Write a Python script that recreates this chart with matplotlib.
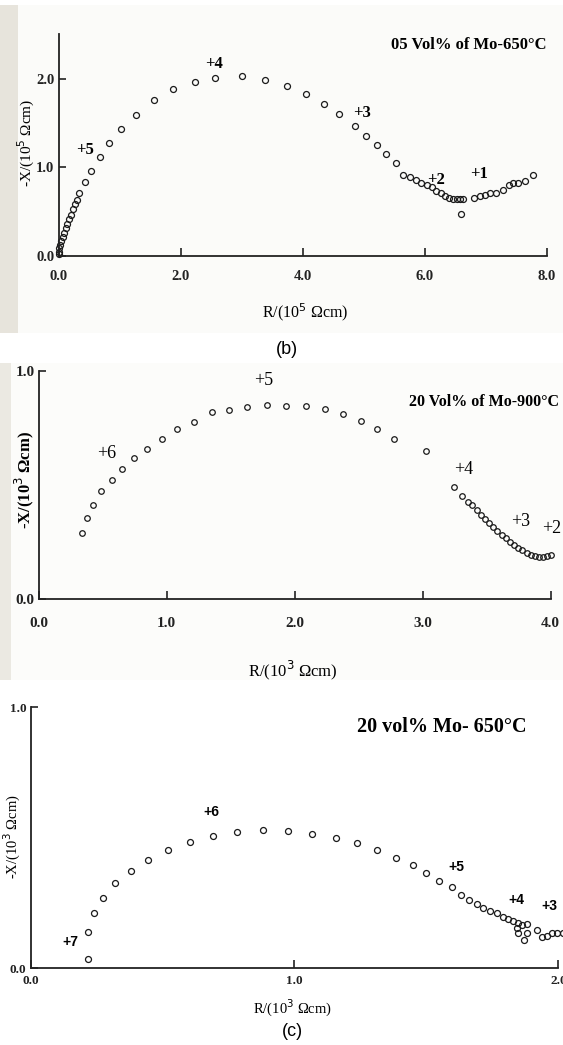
import matplotlib
matplotlib.use('Agg')
import matplotlib.pyplot as plt
from matplotlib.patches import Rectangle

W, H = 563, 1045

# (a) 05 vol% Mo - 650 C, units 10^5 ohm cm
r1 = [0.0, 0.0, 0.008, 0.025, 0.046, 0.068, 0.09, 0.118, 0.144, 0.177, 0.21,
      0.243, 0.27, 0.298, 0.341, 0.435, 0.535, 0.676, 0.835, 1.024, 1.265,
      1.571, 1.882, 2.229, 2.559, 3.0, 3.376, 3.735, 4.059, 4.347, 4.6, 4.853,
      5.041, 5.212, 5.365, 5.535, 5.648, 5.757, 5.856, 5.943, 6.031, 6.113,
      6.183, 6.26, 6.33, 6.4, 6.467, 6.52, 6.577, 6.63, 6.593, 6.806, 6.904,
      6.986, 7.068, 7.161, 7.286, 7.38, 7.45, 7.532, 7.641, 7.767]
x1 = [0.02, 0.048, 0.087, 0.127, 0.173, 0.218, 0.263, 0.312, 0.361, 0.414,
      0.462, 0.527, 0.583, 0.632, 0.707, 0.835, 0.959, 1.117, 1.271, 1.432,
      1.594, 1.759, 1.880, 1.962, 2.011, 2.026, 1.985, 1.917, 1.823, 1.718,
      1.602, 1.470, 1.353, 1.248, 1.147, 1.045, 0.913, 0.887, 0.857, 0.827,
      0.801, 0.775, 0.737, 0.707, 0.677, 0.651, 0.643, 0.643, 0.643, 0.643,
      0.470, 0.651, 0.677, 0.688, 0.707, 0.714, 0.744, 0.801, 0.82, 0.827,
      0.849, 0.917]
lab1 = ["+5", "+4", "+3", "+2", "+1"]
lab1_r = [0.44, 2.55, 4.97, 6.18, 6.89]
lab1_x = [1.19, 2.17, 1.61, 0.86, 0.93]

# (b) 20 vol% Mo - 900 C, units 10^3 ohm cm
r2 = [0.337, 0.379, 0.424, 0.488, 0.570, 0.651, 0.747, 0.848, 0.963, 1.081,
      1.215, 1.353, 1.488, 1.631, 1.782, 1.934, 2.086, 2.240, 2.378, 2.518,
      2.647, 2.773, 3.029, 3.246, 3.306, 3.357, 3.389, 3.423, 3.457, 3.488,
      3.522, 3.554, 3.585, 3.619, 3.653, 3.684, 3.716, 3.749, 3.78, 3.814,
      3.846, 3.879, 3.913, 3.944, 3.976, 4.007]
x2 = [0.292, 0.358, 0.415, 0.476, 0.521, 0.572, 0.618, 0.660, 0.702, 0.745,
      0.778, 0.820, 0.829, 0.844, 0.851, 0.848, 0.845, 0.832, 0.812, 0.781,
      0.745, 0.702, 0.651, 0.493, 0.452, 0.428, 0.413, 0.391, 0.369, 0.35,
      0.333, 0.315, 0.298, 0.282, 0.267, 0.252, 0.238, 0.226, 0.214, 0.203,
      0.195, 0.19, 0.187, 0.187, 0.19, 0.193]
lab2 = ["+6", "+5", "+4", "+3", "+2"]
lab2_r = [0.53, 1.76, 3.32, 3.77, 4.01]
lab2_x = [0.64, 0.96, 0.57, 0.34, 0.31]

# (c) 20 vol% Mo - 650 C, units 10^3 ohm cm
r3 = [0.216, 0.216, 0.241, 0.275, 0.320, 0.382, 0.446, 0.521, 0.605, 0.693,
      0.784, 0.882, 0.974, 1.067, 1.156, 1.238, 1.314, 1.385, 1.448, 1.499,
      1.547, 1.596, 1.63, 1.661, 1.69, 1.716, 1.741, 1.766, 1.789, 1.81,
      1.829, 1.848, 1.863, 1.882, 1.842, 1.848, 1.882, 1.87, 1.92, 1.937,
      1.956, 1.975, 1.996, 2.016]
x3 = [0.036, 0.139, 0.211, 0.269, 0.328, 0.373, 0.415, 0.452, 0.483, 0.507,
      0.521, 0.529, 0.526, 0.516, 0.501, 0.479, 0.452, 0.424, 0.395, 0.364,
      0.335, 0.310, 0.281, 0.262, 0.246, 0.232, 0.221, 0.211, 0.198, 0.188,
      0.181, 0.175, 0.166, 0.169, 0.153, 0.136, 0.136, 0.108, 0.147, 0.121,
      0.124, 0.134, 0.136, 0.136]
lab3 = ["+7", "+6", "+5", "+4", "+3"]
lab3_r = [0.152, 0.687, 1.615, 1.839, 1.966]
lab3_x = [0.102, 0.600, 0.387, 0.262, 0.240]

SERIF = ['Liberation Serif', 'DejaVu Serif']
SANS = ['Liberation Sans', 'DejaVu Sans']


def px_axes(fig, left, right, top, bottom):
    return fig.add_axes([left / W, 1 - bottom / H, (right - left) / W, (bottom - top) / H])


def style_axes(ax, xlim, ylim, xticks, yticks, xpad, ypad, fs=9.5):
    ax.set_facecolor('none')
    ax.set_xlim(*xlim)
    ax.set_ylim(*ylim)
    for s in ['top', 'right']:
        ax.spines[s].set_visible(False)
    for s in ['left', 'bottom']:
        ax.spines[s].set_linewidth(1.3)
        ax.spines[s].set_color('#222222')
    ax.spines['left'].set_bounds(ylim[0], ylim[1])
    ax.spines['bottom'].set_bounds(xticks[0], xticks[-1])
    ax.set_xticks(xticks)
    ax.set_yticks(yticks)
    ax.set_xticklabels([f"{v:.1f}" for v in xticks], family=SERIF, fontsize=fs, fontweight='bold')
    ax.set_yticklabels([f"{v:.1f}" for v in yticks], family=SERIF, fontsize=fs, fontweight='bold')
    ax.tick_params(axis='x', direction='in', length=6, width=1.2, pad=xpad, colors='#222222')
    ax.tick_params(axis='y', direction='in', length=5, width=1.2, pad=ypad, colors='#222222')


fig = plt.figure(figsize=(W / 100, H / 100), dpi=100)
fig.patch.set_facecolor('white')

# scanned page backgrounds
fig.patches.append(Rectangle((0, 1 - 333 / H), 18 / W, 328 / H, transform=fig.transFigure,
                             facecolor='#e7e4dc', edgecolor='none', zorder=-5))
fig.patches.append(Rectangle((18 / W, 1 - 333 / H), 545 / W, 328 / H, transform=fig.transFigure,
                             facecolor='#fbfbf9', edgecolor='none', zorder=-5))
fig.patches.append(Rectangle((0, 1 - 680 / H), 11 / W, 317 / H, transform=fig.transFigure,
                             facecolor='#ebe9e2', edgecolor='none', zorder=-5))
fig.patches.append(Rectangle((11 / W, 1 - 680 / H), 552 / W, 317 / H, transform=fig.transFigure,
                             facecolor='#fcfcfa', edgecolor='none', zorder=-5))

marker_kw = dict(linestyle='none', marker='o', markerfacecolor='none',
                 markeredgecolor='#1a1a1a', clip_on=False)

# ---- panel (a)
ax1 = px_axes(fig, 58.5, 546.9, 34.3, 256)
style_axes(ax1, (0, 8.0), (0, 2.5), [0.0, 2.0, 4.0, 6.0, 8.0], [0.0, 1.0, 2.0], 10, 3, fs=10.5)
ax1.plot(r1, x1, markersize=4.3, markeredgewidth=0.9, **marker_kw)
for t, r, x in zip(lab1, lab1_r, lab1_x):
    ax1.text(r, x, t, family=SERIF, fontsize=12, fontweight='bold', ha='center', va='center')
ax1.text(6.72, 2.38, "05 Vol% of Mo-650°C", family=SERIF, fontsize=12, fontweight='bold',
         ha='center', va='center')
fig.text(305 / W, 1 - 312 / H, "R/(10$^5$ Ωcm)", family=SERIF, fontsize=11.5,
         ha='center', va='center')
fig.text(26 / W, 1 - 143 / H, "-X/(10$^5$ Ωcm)", family=SERIF, fontsize=11,
         ha='center', va='center', rotation=90)

fig.text(287 / W, 1 - 349 / H, "(b)", family=SANS, fontsize=13, ha='center', va='center')

# ---- panel (b)
ax2 = px_axes(fig, 38.8, 550.5, 371, 599.3)
style_axes(ax2, (0, 4.0), (0, 1.0), [0.0, 1.0, 2.0, 3.0, 4.0], [0.0, 1.0], 13, 3, fs=11)
ax2.plot(r2, x2, markersize=4.0, markeredgewidth=0.9, **marker_kw)
for t, r, x in zip(lab2, lab2_r, lab2_x):
    ax2.text(r, x, t, family=SERIF, fontsize=13, ha='center', va='center')
ax2.text(3.48, 0.866, "20 Vol% of Mo-900°C", family=SERIF, fontsize=11.5, fontweight='bold',
         ha='center', va='center', clip_on=False)
fig.text(292.6 / W, 1 - 670 / H, "R/(10$^3$ Ωcm)", family=SERIF, fontsize=12,
         ha='center', va='center')
fig.text(24 / W, 1 - 480 / H, "-X/(10$^3$ Ωcm)", family=SERIF, fontsize=12, fontweight='bold',
         ha='center', va='center', rotation=90)

# ---- panel (c)
ax3 = px_axes(fig, 30.5, 558.4, 707.3, 968.3)
style_axes(ax3, (0, 2.0), (0, 1.0), [0.0, 1.0, 2.0], [0.0, 1.0], 5, 3, fs=9.5)
ax3.plot(r3, x3, markersize=4.3, markeredgewidth=0.9, **marker_kw)
for t, r, x in zip(lab3, lab3_r, lab3_x):
    ax3.text(r, x, t, family=SANS, fontsize=10, fontweight='bold', ha='center', va='center')
ax3.text(1.557, 0.926, "20 vol% Mo- 650°C", family=SERIF, fontsize=14.5, fontweight='bold',
         ha='center', va='center')
fig.text(292.6 / W, 1 - 1008 / H, "R/(10$^3$ Ωcm)", family=SERIF, fontsize=10.5,
         ha='center', va='center')
fig.text(12.6 / W, 1 - 837 / H, "-X/(10$^3$ Ωcm)", family=SERIF, fontsize=10.5,
         ha='center', va='center', rotation=90)

fig.text(292 / W, 1 - 1031 / H, "(c)", family=SANS, fontsize=13, ha='center', va='center')

fig.savefig('out.png', dpi=100, facecolor=fig.get_facecolor())
